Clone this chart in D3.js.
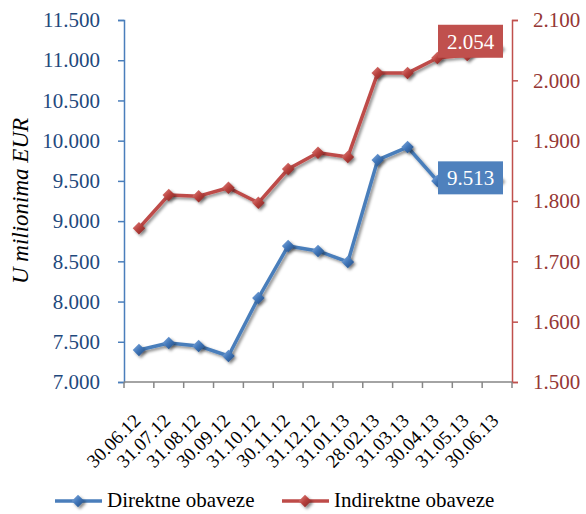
<!DOCTYPE html>
<html><head><meta charset="utf-8">
<script src="https://cdn.jsdelivr.net/npm/d3@7"></script>
<style>body{margin:0;background:#fff}svg{display:block}svg text{font-family:"Liberation Serif",serif}</style>
</head><body>
<svg id="c" width="586" height="514"></svg>
<script>
const categories = ["30.06.12","31.07.12","31.08.12","30.09.12","31.10.12","30.11.12","31.12.12","31.01.13","28.02.13","31.03.13","30.04.13","31.05.13","30.06.13"];
const direktne = [7398, 7485, 7448, 7323, 8044, 8691, 8629, 8492, 9760, 9921, 9499, 9505, 9513];
const indirektne = [1755, 1810, 1808, 1822, 1797, 1853, 1880, 1873, 2012, 2012, 2037, 2042, 2054];
const leftTicks = [7000,7500,8000,8500,9000,9500,10000,10500,11000,11500];
const rightTicks = [1500,1600,1700,1800,1900,2000,2100];
const seriesNames = ["Direktne obaveze","Indirektne obaveze"];

(function () {
const fmt = v => d3.format(",.0f")(v).replace(/,/g, ".");
const svg = d3.select("#c");
const font = "Liberation Serif";

const pLeft = 124, pRight = 512, pTop = 20, pBottom = 382;
const x = d3.scaleBand().domain(categories).range([pLeft, pRight]);
const yL = d3.scaleLinear().domain([7000, 11500]).range([pBottom, pTop]);
const yR = d3.scaleLinear().domain([1500, 2100]).range([pBottom, pTop]);

const defs = svg.append("defs");
function grad(id, light, mid, dark) {
  const g = defs.append("linearGradient").attr("id", id).attr("x1", "0").attr("y1", "0").attr("x2", "1").attr("y2", "1");
  g.append("stop").attr("offset", "0").attr("stop-color", light);
  g.append("stop").attr("offset", "0.5").attr("stop-color", mid);
  g.append("stop").attr("offset", "1").attr("stop-color", dark);
}
grad("gb", "#8db3e2", "#3f75b8", "#23497a");
grad("gr", "#e58a86", "#b8413d", "#7a2220");
const f = defs.append("filter").attr("id", "sh").attr("x", "-50%").attr("y", "-50%").attr("width", "200%").attr("height", "200%");
f.append("feDropShadow").attr("dx", 2).attr("dy", 2).attr("stdDeviation", 1.5).attr("flood-color", "#000").attr("flood-opacity", 0.45);

// Left axis
const axL = svg.append("g").attr("transform", `translate(${pLeft},0)`)
  .call(d3.axisLeft(yL).tickValues(leftTicks).tickFormat(fmt).tickSizeOuter(0).tickSize(6).tickPadding(18));
axL.attr("font-family", font).attr("font-size", 21);
axL.select(".domain").attr("stroke", "#4a7ebb").attr("stroke-width", 1.5);
axL.selectAll(".tick line").attr("stroke", "#4a7ebb").attr("stroke-width", 1.5);
axL.selectAll(".tick text").attr("fill", "#1f497d").attr("font-family", font).attr("font-size", 21);

// Right axis
const axR = svg.append("g").attr("transform", `translate(${pRight},0)`)
  .call(d3.axisRight(yR).tickValues(rightTicks).tickFormat(fmt).tickSizeOuter(0).tickSize(6).tickPadding(15));
axR.attr("font-family", font).attr("font-size", 21);
axR.select(".domain").attr("stroke", "#c0504d").attr("stroke-width", 1.5);
axR.selectAll(".tick line").attr("stroke", "#c0504d").attr("stroke-width", 1.5);
axR.selectAll(".tick text").attr("fill", "#953735").attr("font-family", font).attr("font-size", 21);

// Bottom axis
const tickPos = categories.map(c => x(c)).concat([pRight]);
const axB = svg.append("g");
axB.append("line").attr("x1", pLeft).attr("x2", pRight).attr("y1", pBottom).attr("y2", pBottom).attr("stroke", "#868686").attr("stroke-width", 1.5);
axB.selectAll("line.t").data(tickPos).join("line").attr("class", "t")
  .attr("x1", d => d).attr("x2", d => d).attr("y1", pBottom).attr("y2", pBottom + 6).attr("stroke", "#868686").attr("stroke-width", 1.5);
axB.selectAll("text").data(categories).join("text")
  .attr("transform", d => `translate(${x(d) + x.bandwidth() / 2 - 2},${pBottom + 35}) rotate(-45)`)
  .attr("text-anchor", "end").attr("dy", "0.35em")
  .attr("font-family", font).attr("font-size", 19).attr("fill", "#000").text(d => d);

// Y title
svg.append("text").attr("transform", `translate(28,${(pTop + pBottom) / 2}) rotate(-90)`)
  .attr("text-anchor", "middle").attr("font-family", font).attr("font-size", 23).attr("font-style", "italic")
  .attr("fill", "#000").text("U milionima EUR");

const cx = d => x(d) + x.bandwidth() / 2;
const diamond = d3.symbol().type(d3.symbolDiamond2).size(100);

function drawSeries(vals, scale, color, gid) {
  const g = svg.append("g");
  const line = d3.line().x((d, i) => cx(categories[i])).y(d => scale(d));
  g.append("path").datum(vals).attr("d", line).attr("fill", "none").attr("stroke", color).attr("stroke-width", 3.5)
    .attr("stroke-linejoin", "round").attr("filter", "url(#sh)");
  g.selectAll("path.m").data(vals).join("path").attr("class", "m")
    .attr("transform", (d, i) => `translate(${cx(categories[i])},${scale(d)})`)
    .attr("d", diamond).attr("fill", `url(#${gid})`).attr("stroke", "none").attr("filter", "url(#sh)");
  return g;
}
drawSeries(direktne, yL, "#4a7ebb", "gb");
drawSeries(indirektne, yR, "#be4b48", "gr");

// Data labels for last points
function label(val, yv, fill) {
  const bx = 438, bw = 65, bh = 33;
  svg.append("rect").attr("x", bx).attr("y", yv - bh / 2).attr("width", bw).attr("height", bh).attr("fill", fill);
  svg.append("text").attr("x", bx + bw / 2).attr("y", yv).attr("dy", "0.35em").attr("text-anchor", "middle")
    .attr("font-family", font).attr("font-size", 21).attr("fill", "#fff").text(fmt(val));
}
label(direktne[direktne.length - 1], yL(direktne[direktne.length - 1]) - 2, "#4f81bd");
label(indirektne[indirektne.length - 1], yR(indirektne[indirektne.length - 1]) - 6.5, "#c0504d");

// Legend
const leg = svg.append("g");
const items = [{name: seriesNames[0], color: "#4a7ebb", gid: "gb", x0: 55}, {name: seriesNames[1], color: "#be4b48", gid: "gr", x0: 282}];
items.forEach(it => {
  leg.append("line").attr("x1", it.x0).attr("x2", it.x0 + 47).attr("y1", 501).attr("y2", 501).attr("stroke", it.color).attr("stroke-width", 3.5);
  leg.append("path").attr("transform", `translate(${it.x0 + 23},501)`).attr("d", diamond).attr("fill", `url(#${it.gid})`).attr("filter", "url(#sh)");
  leg.append("text").attr("x", it.x0 + 52).attr("y", 507).attr("font-family", font).attr("font-size", 21).attr("fill", "#000").text(it.name);
});
})();
</script>
</body></html>
